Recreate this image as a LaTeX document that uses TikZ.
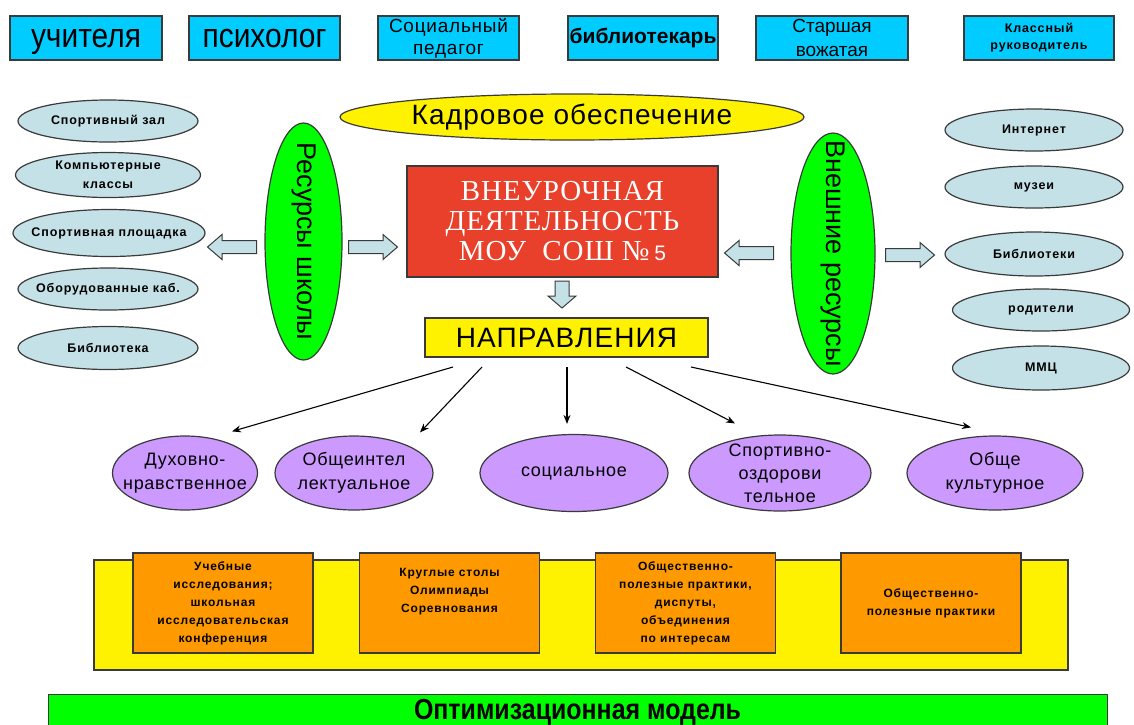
\documentclass[tikz,border=0pt]{standalone}
\usepackage{fontspec}
\setmainfont{Liberation Sans}
\newfontfamily\serfont[LetterSpace=3]{Liberation Serif}
\newfontfamily\spfont[LetterSpace=4]{Liberation Sans}
\newfontfamily\smallbold[LetterSpace=7]{Liberation Sans}
\newfontfamily\tallfont[FakeStretch=0.88]{Liberation Sans}
\newfontfamily\narrowbold[FakeStretch=0.86]{Liberation Sans}
\usetikzlibrary{arrows.meta,shapes.geometric}
\definecolor{topcyan}{HTML}{00CCFF}
\definecolor{paleblue}{HTML}{C3E1E6}
\definecolor{lilac}{HTML}{CC99FF}
\definecolor{brightgreen}{HTML}{00FF00}
\definecolor{boxred}{HTML}{E8402A}
\definecolor{orng}{HTML}{FF9900}
\definecolor{edge}{HTML}{3A3A3A}
\tikzset{
  staff/.style={draw=edge, line width=1.3pt, fill=topcyan, minimum height=44pt, inner sep=0pt, align=center},
  res/.style={ellipse, draw=edge, line width=1.2pt, fill=paleblue, minimum width=180pt, minimum height=42pt, inner sep=0pt},
  restext/.style={align=center, inner sep=0pt, font=\smallbold\bfseries\fontsize{12.5}{19}\selectfont},
  greenell/.style={ellipse, draw=edge, line width=1.2pt, fill=brightgreen, inner sep=0pt},
  side/.style={rotate=-90, inner sep=0pt, font=\fontsize{27}{27}\selectfont},
  dir/.style={ellipse, draw=edge, line width=1.2pt, fill=lilac, minimum height=74pt, inner sep=0pt},
  dirtext/.style={align=center, inner sep=0pt, font=\spfont\fontsize{18}{24}\selectfont},
  form/.style={draw=edge, line width=1.2pt, fill=orng, minimum width=180pt, minimum height=100pt, inner sep=0pt, align=center, font=\smallbold\bfseries\fontsize{12}{18}\selectfont},
  conn/.style={->, line width=1.1pt},
  blockarrow/.style={draw=edge, line width=1pt, fill=paleblue},
  pics/barrow/.style={code={\draw[blockarrow] (-24.5,-6.5) -- (10,-6.5) -- (10,-12.5) -- (24.5,0) -- (10,12.5) -- (10,6.5) -- (-24.5,6.5) -- cycle;}}
}
\begin{document}
\begin{tikzpicture}[x=1pt, y=-1pt, >={Stealth[length=9pt,width=7pt]}]
\useasboundingbox (0,0) rectangle (1134,724);

% staff row
\node[staff, minimum width=152pt, text depth=0pt, font=\tallfont\fontsize{34}{34}\selectfont] (uch) at (86,38) {учителя};
\node[staff, minimum width=151pt, text depth=0pt, font=\tallfont\fontsize{34}{34}\selectfont] (psy) at (264.5,38) {психолог};
\node[staff, minimum width=141pt, font=\spfont\fontsize{19}{22}\selectfont] (socp) at (448.5,38) {Социальный\\педагог};
\node[staff, minimum width=150pt, font=\bfseries\fontsize{21}{21}\selectfont] (bib) at (643,38) {\makebox[0pt]{библиотекарь}};
\node[staff, minimum width=152pt, font=\fontsize{19}{23.5}\selectfont] (vozh) at (832,38) {Старшая\\вожатая};
\node[staff, minimum width=150pt, font=\smallbold\bfseries\fontsize{12.5}{17}\selectfont] (klass) at (1039,38) {Классный\\руководитель};

% school resources
\node[res, label={[restext]center:Спортивный зал}] (zal) at (108,121) {};
\node[res, minimum width=185pt, minimum height=45pt, label={[restext]center:{Компьютерные\\классы}}] (komp) at (108,175) {};
\node[res, minimum width=192pt, minimum height=47pt, label={[restext]center:Спортивная площадка}] (plosh) at (109,233) {};
\node[res, label={[restext]center:Оборудованные каб.}] (kab) at (108,289) {};
\node[res, minimum height=43pt, label={[restext]center:Библиотека}] (bibl) at (108,348) {};

% outer resources
\node[res, minimum width=178pt, label={[restext]center:Интернет}] (inet) at (1034,130) {};
\node[res, minimum width=178pt, label={[restext]center:музеи}] (muz) at (1034,187) {};
\node[res, minimum width=178pt, minimum height=44pt, label={[restext]center:Библиотеки}] (bibr) at (1034,254) {};
\node[res, minimum width=177pt, label={[restext]center:родители}] (rod) at (1041,310) {};
\node[res, minimum width=177pt, minimum height=44pt, label={[restext]center:ММЦ}] (mmc) at (1041,368) {};

% centre
\node[ellipse, draw=edge, line width=1.2pt, fill=yellow, minimum width=464pt, minimum height=46pt, inner sep=0pt, font=\spfont\fontsize{28}{28}\selectfont] (kadr) at (572,117) {Кадровое обеспечение};
\node[greenell, minimum width=77pt, minimum height=237pt, label={[side]center:Ресурсы школы}] (rschool) at (303.5,241.5) {};
\node[greenell, minimum width=84pt, minimum height=241pt, label={[side]center:Внешние ресурсы}] (rout) at (833,253.5) {};
\node[draw=edge, line width=1.2pt, fill=boxred, minimum width=311pt, minimum height=111pt, inner sep=0pt, align=center, text=white, font=\serfont\fontsize{29}{30}\selectfont] (main) at (562.5,221.5) {ВНЕУРОЧНАЯ\\ДЕЯТЕЛЬНОСТЬ\\МОУ\ \ СОШ №\,{\rmfamily\fontsize{21}{21}\selectfont 5}};
\node[draw=edge, line width=1.2pt, fill=yellow, minimum width=283pt, minimum height=39pt, inner sep=0pt, font=\spfont\fontsize{28}{28}\selectfont] (napr) at (566.5,337.5) {НАПРАВЛЕНИЯ};

% block arrows
\pic[rotate=180] at (232,247) {barrow};
\pic at (373,247) {barrow};
\pic[rotate=180] at (749,253) {barrow};
\pic at (910,255) {barrow};
\draw[blockarrow] (555,281) -- (569,281) -- (569,296) -- (576,296) -- (562,308) -- (548,296) -- (555,296) -- cycle;

% directions
\node[dir, minimum width=145pt, label={[dirtext]center:{Духовно-\\нравственное}}] (dux) at (185,473) {};
\node[dir, minimum width=158pt, label={[dirtext]center:{Общеинтел\\лектуальное}}] (intel) at (354,473) {};
\node[dir, minimum width=188pt, minimum height=77pt, label={[dirtext]center:социальное}] (soc) at (574,473) {};
\node[dir, minimum width=182pt, minimum height=76pt, label={[dirtext, font=\spfont\fontsize{18}{23}\selectfont]center:{Спортивно-\\оздорови\\тельное}}] (sport) at (780,473) {};
\node[dir, minimum width=176pt, label={[dirtext]center:{Обще\\культурное}}] (kult) at (995,473) {};

\coordinate (s1) at (453,367);
\coordinate (s2) at (482,367);
\coordinate (s3) at (567,367);
\coordinate (s4) at (626,367);
\coordinate (s5) at (691,367);
\draw[conn] (s1) -- ([xshift=47pt,yshift=4pt]dux.north);
\draw[conn] (s2) -- ([xshift=66pt,yshift=3pt]intel.north);
\draw[conn] (s3) -- ([xshift=-7pt,yshift=10pt]soc.north);
\draw[conn] (s4) -- ([xshift=-45pt,yshift=11pt]sport.north);
\draw[conn] (s5) -- ([xshift=-24pt,yshift=8pt]kult.north);

% forms
\node[draw=edge, line width=1.2pt, fill=yellow, minimum width=974pt, minimum height=110pt, inner sep=0pt] (base) at (581,615) {};
\node[form] (f1) at (223,603) {Учебные\\исследования;\\школьная\\исследовательская\\конференция};
\node[form] (f2) at (449.5,603) {Круглые столы\\Олимпиады\\Соревнования\\[8pt]};
\node[form] (f3) at (685.5,603) {Общественно-\\полезные практики,\\диспуты,\\объединения\\по интересам};
\node[form] (f4) at (931,603) {Общественно-\\полезные практики};

\node[draw=edge, line width=1.2pt, fill=brightgreen, minimum width=1059pt, minimum height=36pt, inner sep=0pt, anchor=north west] (model) at (48,694) {};
\node[font=\narrowbold\bfseries\fontsize{29}{29}\selectfont, inner sep=0pt] (modeltext) at (577.5,712) {Оптимизационная модель};
\end{tikzpicture}
\end{document}
